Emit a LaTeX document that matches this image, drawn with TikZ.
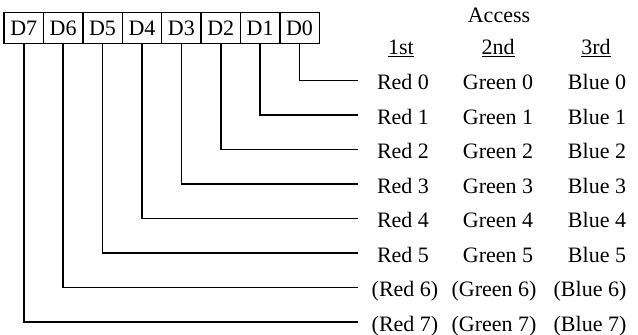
\documentclass[tikz,border=0pt]{standalone}
\usepackage{fontspec}
\setmainfont{Liberation Serif}
\begin{document}
\begin{tikzpicture}[x=1pt,y=1pt,
  bitbox/.style={draw,line width=1.5pt,minimum width=39.4pt,minimum height=31pt,inner sep=0pt,anchor=north west,font=\fontsize{22}{26}\selectfont},
  lbl/.style={anchor=base,inner sep=0pt,font=\fontsize{22}{26}\selectfont},
  wire/.style={line width=1.5pt}]
\useasboundingbox (0,0) rectangle (638,335);
% bit boxes
\foreach \i/\n in {0/7,1/6,2/5,3/4,4/3,5/2,6/1,7/0}{
  \node[bitbox] (D\n) at ({3.3+39.4*\i},323) {D\n};
}
% header
\node[lbl] (acc) at (499,312) {Access};
\node[lbl] (h1) at (401,280) {\underline{1st}};
\node[lbl] (h2) at (498,280) {\underline{2nd}};
\node[lbl] (h3) at (596,280) {\underline{3rd}};
% rows
\foreach \k in {0,...,5}{
  \coordinate (e\k) at (358,{335-80.5-34.5*\k});
  \node[lbl] (r\k) at (403,{335-90-34.5*\k}) {Red \k};
  \node[lbl] (g\k) at (498,{335-90-34.5*\k}) {Green \k};
  \node[lbl] (b\k) at (597,{335-90-34.5*\k}) {Blue \k};
}
\foreach \k in {6,7}{
  \coordinate (e\k) at (358,{335-80.5-34.5*\k});
  \node[lbl] (r\k) at (405,{335-90-34.5*\k}) {(Red \k)};
  \node[lbl] (g\k) at (494,{335-90-34.5*\k}) {(Green \k)};
  \node[lbl] (b\k) at (590,{335-90-34.5*\k}) {(Blue \k)};
}
% wires
\foreach \k in {0,...,7}{
  \draw[wire] (D\k.south) |- (e\k);
}
\end{tikzpicture}
\end{document}
